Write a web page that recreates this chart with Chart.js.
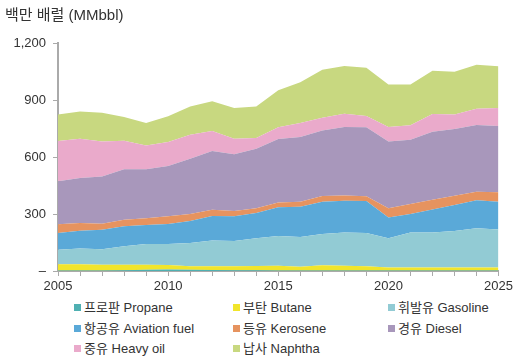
<!DOCTYPE html>
<html>
<head>
<meta charset="utf-8">
<script src="https://cdn.jsdelivr.net/npm/chart.js@4"></script>
<style>
  body { margin: 0; background: #fff; font-family: "Liberation Sans", "Noto Sans CJK KR", sans-serif; color: #333; }
  #wrap { position: relative; width: 516px; height: 362px; }
  #title { position: absolute; left: 5px; top: 3px; font-size: 15px; color: #333; }
  #chart { position: absolute; left: 0; top: 0; }
  .lg { position: absolute; font-size: 13px; color: #333; white-space: nowrap; line-height: 16px; }
  .lg i { display: inline-block; width: 7px; height: 7px; margin-right: 3px; vertical-align: 1px; }
</style>
</head>
<body>
<div id="wrap">
  <canvas id="chart" width="516" height="300"></canvas>
  <div id="title">백만 배럴 (MMbbl)</div>
  <div id="legend"></div>
</div>
<script>
// 연도별 석유제품 소비량 (백만 배럴)
const years = ['2005','2006','2007','2008','2009','2010','2011','2012','2013','2014','2015',
               '2016','2017','2018','2019','2020','2021','2022','2023','2024','2025'];

const propane  = [2, 2, 3, 4, 6, 8, 6, 5, 4, 4, 3, 3, 3, 3, 2, 2, 2, 2, 2, 2, 2];
const butane   = [33, 33, 30, 29, 27, 24, 19, 20, 21, 22, 25, 20, 27, 25, 23, 17, 17, 16, 16, 16, 16];
const gasoline = [77, 83, 81, 97, 109, 110, 122, 136, 133, 146, 156, 156, 165, 175, 175, 153, 184, 185, 192, 207, 201];
const aviation = [88, 94, 103, 105, 100, 105, 116, 128, 130, 133, 151, 159, 170, 167, 168, 110, 97, 121, 137, 147, 146];
const kerosene = [46, 41, 32, 35, 35, 41, 37, 34, 28, 25, 26, 27, 30, 28, 25, 48, 53, 51, 49, 45, 49];
const diesel   = [226, 236, 249, 265, 258, 265, 291, 308, 298, 314, 334, 340, 345, 360, 363, 352, 338, 358, 351, 351, 349];
const heavyOil = [212, 207, 184, 151, 125, 126, 126, 106, 82, 56, 61, 74, 67, 70, 60, 76, 76, 93, 77, 86, 95];
const naphtha  = [140, 144, 151, 124, 119, 135, 149, 156, 162, 166, 195, 214, 252, 251, 254, 224, 215, 228, 225, 232, 219];

const yTicks = [0, 300, 600, 900, 1200];

const series = [
  { label: '프로판 Propane',       data: propane,  color: '#4fb0b2' },
  { label: '부탄 Butane',          data: butane,   color: '#f1e52b' },
  { label: '휘발유 Gasoline',      data: gasoline, color: '#92cbd4' },
  { label: '항공유 Aviation fuel', data: aviation, color: '#5aa9d8' },
  { label: '등유 Kerosene',        data: kerosene, color: '#e6935f' },
  { label: '경유 Diesel',          data: diesel,   color: '#a897bb' },
  { label: '중유 Heavy oil',       data: heavyOil, color: '#eaaacb' },
  { label: '납사 Naphtha',         data: naphtha,  color: '#c8d880' }
];

const axisColor = '#aaaaaa';
const tickFont = { family: '"Liberation Sans", sans-serif', size: 13 };

new Chart(document.getElementById('chart').getContext('2d'), {
  type: 'line',
  data: {
    labels: years,
    datasets: series.map((s, i) => ({
      label: s.label,
      data: s.data,
      backgroundColor: s.color,
      borderColor: s.color,
      borderWidth: 0,
      pointRadius: 0,
      tension: 0,
      fill: i === 0 ? 'origin' : '-1'
    }))
  },
  options: {
    responsive: false,
    animation: false,
    layout: { padding: { top: 43, right: 15, left: 0, bottom: 0 } },
    plugins: { legend: { display: false }, tooltip: { enabled: false } },
    scales: {
      x: {
        offset: false,
        grid: { drawOnChartArea: false, drawTicks: true, tickLength: 5, color: axisColor, lineWidth: 1 },
        border: { display: true, color: axisColor, width: 2 },
        ticks: {
          autoSkip: false, maxRotation: 0, padding: 3, color: '#333', font: tickFont,
          callback: (v, i) => (Number(years[i]) % 5 === 0 ? years[i] : '')
        },
        afterFit: (scale) => { scale.height = 29; }
      },
      y: {
        stacked: true,
        min: 0,
        max: 1200,
        afterBuildTicks: (scale) => { scale.ticks = yTicks.map(v => ({ value: v })); },
        grid: { drawOnChartArea: false, drawTicks: true, tickLength: 5, color: axisColor, lineWidth: 1 },
        border: { display: true, color: axisColor, width: 2 },
        ticks: {
          padding: 7, color: '#333', font: tickFont,
          callback: (v) => (v === 0 ? '–' : v.toLocaleString('en-US'))
        },
        afterFit: (scale) => { scale.width = 58; }
      }
    }
  }
});

// 범례: 3열 배치
const legendPos = [[74, 300], [233, 300], [388, 300],
                   [74, 321], [233, 321], [388, 321],
                   [74, 341], [233, 341]];
const legend = document.getElementById('legend');
series.forEach((s, i) => {
  const d = document.createElement('div');
  d.className = 'lg';
  d.style.left = legendPos[i][0] + 'px';
  d.style.top = legendPos[i][1] + 'px';
  d.innerHTML = '<i style="background:' + s.color + '"></i>' + s.label;
  legend.appendChild(d);
});
</script>
</body>
</html>
